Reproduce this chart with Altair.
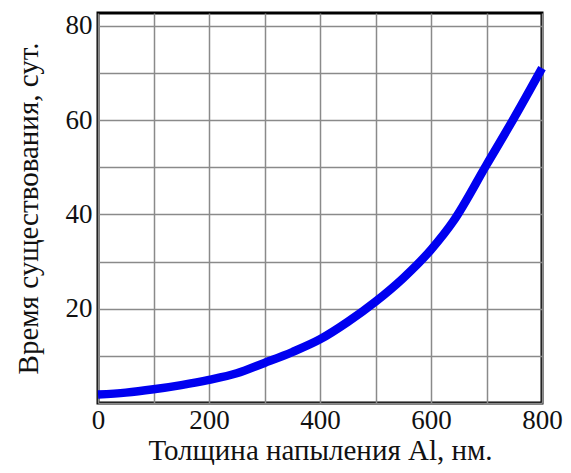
import altair as alt
import pandas as pd

thickness = [0, 50, 100, 150, 200, 250, 300, 350, 400, 450, 500, 550, 600, 640, 700, 750, 800]
lifetime = [1.8, 2.2, 2.9, 3.8, 4.9, 6.3, 8.5, 10.8, 13.5, 17.2, 21.5, 26.5, 32.5, 38.5, 50.5, 60.5, 71.0]

x_grid = [0, 100, 200, 300, 400, 500, 600, 700, 800]
y_grid = [0, 10, 20, 30, 40, 50, 60, 70, 80]

df = pd.DataFrame({"t": thickness, "v": lifetime})

font = "Liberation Serif"

chart = alt.Chart(df).mark_line(color="#0000f0", strokeWidth=8.5, interpolate="monotone").encode(
    x=alt.X("t:Q", scale=alt.Scale(domain=[0, 800], nice=False),
            axis=alt.Axis(values=x_grid, title="Толщина напыления Al, нм.",
                          labelExpr="datum.value % 200 == 0 ? datum.label : ''",
                          ticks=False, domain=False, labelPadding=4,
                          titlePadding=3, titleFontSize=29)),
    y=alt.Y("v:Q", scale=alt.Scale(domain=[0, 82.7], nice=False),
            axis=alt.Axis(values=y_grid, title="Время существования, сут.",
                          labelExpr="datum.value % 20 == 0 && datum.value > 0 ? datum.label : ''",
                          ticks=False, domain=False, labelPadding=6,
                          titlePadding=22, titleFontSize=29)),
).properties(
    width=555, height=457, background="white",
    autosize=alt.AutoSizeParams(type="fit", contains="padding"),
    padding={"left": 6, "top": 5, "right": 0, "bottom": 0},
).configure_axis(
    grid=True, gridColor="#8a8a8a", gridWidth=1.5,
    labelFont=font, titleFont=font, labelFontSize=27,
    labelColor="#111", titleColor="#111", titleFontWeight="normal",
    labelFlush=False
).configure_view(stroke="#000", strokeWidth=3)

chart.save("out.html", embed_options={"renderer": "svg", "actions": False})
